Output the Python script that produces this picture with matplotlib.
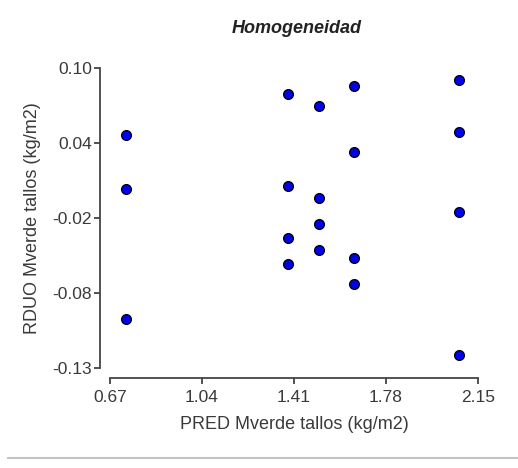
import matplotlib
matplotlib.use("Agg")
import matplotlib.pyplot as plt
import numpy as np

plt.rcParams['font.family'] = ['Liberation Sans', 'DejaVu Sans']

pred = [0.734, 0.734, 0.734,
        1.386, 1.386, 1.386, 1.386,
        1.511, 1.511, 1.511, 1.511,
        1.651, 1.651, 1.651, 1.651,
        2.074, 2.074, 2.074, 2.074]
rduo = [0.0475, 0.0052, -0.0966,
        0.0796, 0.0076, -0.0332, -0.0535,
        0.0702, -0.0018, -0.0222, -0.0426,
        0.0859, 0.0342, -0.0488, -0.0692,
        0.0906, 0.0499, -0.0128, -0.1248]

xticks = [0.67, 1.04, 1.41, 1.78, 2.15]
xticklabels = ["0.67", "1.04", "1.41", "1.78", "2.15"]
yticks = list(np.linspace(-0.135, 0.10, 5))
yticklabels = ["-0.13", "-0.08", "-0.02", "0.04", "0.10"]

fig = plt.figure(figsize=(5.18, 4.68), dpi=100)
ax = fig.add_axes([110/518, 100/468, 368/518, 300/468])
ax.scatter(pred, rduo, s=50, c='#0000ee', edgecolors='black', linewidths=0.9, zorder=3, clip_on=False)
ax.set_xlim(0.67, 2.15)
ax.set_ylim(-0.135, 0.10)
ax.set_xticks(xticks)
ax.set_xticklabels(xticklabels)
ax.set_yticks(yticks)
ax.set_yticklabels(yticklabels)
for s in ['top', 'right']:
    ax.spines[s].set_visible(False)
for s in ['left', 'bottom']:
    ax.spines[s].set_position(('outward', 7))
    ax.spines[s].set_linewidth(1.3)
    ax.spines[s].set_color('#444444')
ax.tick_params(axis='both', direction='out', length=4, width=1.3, color='#444444',
               labelsize=12.5, labelcolor='#3a3a3a', pad=2)
ax.tick_params(axis='x', pad=5)
ax.set_xlabel("PRED Mverde tallos (kg/m2)", fontsize=13, color='#3a3a3a', labelpad=8)
ax.set_ylabel("RDUO Mverde tallos (kg/m2)", fontsize=13, color='#3a3a3a', labelpad=8)
fig.text(0.573, 0.940, "Homogeneidad", ha='center', va='center', fontsize=13,
         fontweight='bold', fontstyle='italic', color='#222222')
fig.add_artist(plt.Line2D([8/518, 1.0], [1 - 458/468, 1 - 458/468], color='#c4c4c4', linewidth=1.5))
fig.savefig("out.png", dpi=100)
